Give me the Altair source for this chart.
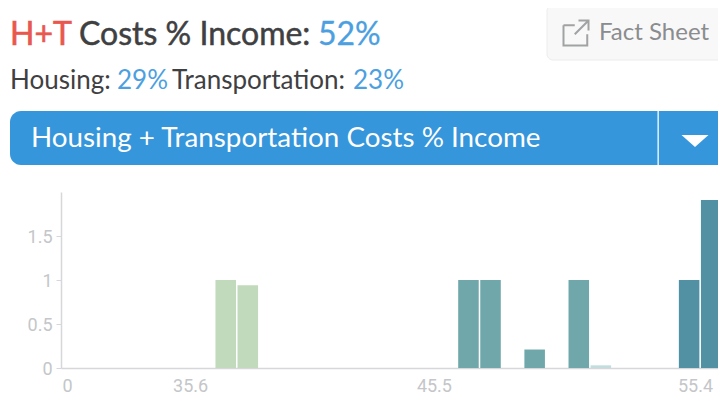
import altair as alt
import pandas as pd

# Histogram values
bin_start = [7, 8, 18, 19, 21, 23, 24, 28, 29]
counts = [1.0, 0.94, 1.0, 1.0, 0.21, 1.0, 0.03, 1.0, 1.91]
groups = ["low", "low", "mid", "mid", "mid", "mid", "faint", "high", "high"]
group_names = ["low", "mid", "faint", "high"]
group_colors = ["#c0dabb", "#6fa7ab", "#c3dcde", "#5291a3"]

# Tick labels
tick_pos = [0.27, 5.85, 16.9, 28.73]
tick_text = ["0", "35.6", "45.5", "55.4"]

FONT = "Lato"
AXIS_FONT = "Roboto"

bars = pd.DataFrame({"start": bin_start, "count": counts, "group": groups})
bars["end"] = bars["start"] + 0.93
bars["base"] = 0

label_expr = " : ".join(
    f"datum.value == {p} ? '{t}'" for p, t in zip(tick_pos, tick_text)
) + " : ''"

x_scale = alt.Scale(domain=[0, 30], range=[0, 662], nice=False, zero=False)
y_scale = alt.Scale(domain=[0, 2], nice=False)

hist = alt.Chart(bars).mark_bar(binSpacing=0).encode(
    x=alt.X(
        "start:Q",
        scale=x_scale,
        title=None,
        axis=alt.Axis(
            values=tick_pos,
            labelExpr=label_expr,
            grid=False,
            ticks=False,
            labelFont=AXIS_FONT,
            labelFontSize=18,
            labelColor="#c4c6c9",
            labelPadding=9,
            domainColor="#d6d7da",
            domainWidth=1.5,
            labelFlush=False,
            labelOverlap=False,
        ),
    ),
    x2="end:Q",
    y=alt.Y(
        "count:Q",
        scale=y_scale,
        title=None,
        axis=alt.Axis(
            values=[0, 0.5, 1, 1.5],
            grid=False,
            tickSize=5,
            tickColor="#d6d7da",
            labelFont=AXIS_FONT,
            labelFontSize=18,
            labelColor="#c4c6c9",
            labelPadding=4,
            labelOffset=1.5,
            domainColor="#d6d7da",
            domainWidth=1.5,
            format="~g",
        ),
    ),
    y2="base:Q",
    color=alt.Color(
        "group:N",
        scale=alt.Scale(domain=group_names, range=group_colors),
        legend=None,
    ),
)


def rect(x, x2, y, y2, fill, stroke=None, radius=0):
    kw = {"fill": fill, "cornerRadius": radius}
    if stroke:
        kw.update(stroke=stroke, strokeWidth=1)
    return alt.Chart(pd.DataFrame({"a": [0]})).mark_rect(**kw).encode(
        x=alt.value(x), x2=alt.value(x2), y=alt.value(y), y2=alt.value(y2)
    )


def label(s, x, y, size, color, font=FONT, heavy=0):
    kw = {"stroke": color, "strokeWidth": heavy} if heavy else {}
    return alt.Chart(pd.DataFrame({"t": [s]})).mark_text(
        align="left", baseline="alphabetic", font=font, fontSize=size, color=color, **kw
    ).encode(x=alt.value(x), y=alt.value(y), text="t:N")


OX, OY = 61, 192  # page position of the plot origin
DARK = "#3f4042"
BLUE = "#4c9fe0"

parts = [
    label("H+T", 10 - OX, 45 - OY, 32, "#e9584e", heavy=0.6),
    label("Costs % Income:", 79 - OX, 45 - OY, 32, DARK, heavy=0.5),
    label("52%", 318 - OX, 45 - OY, 32, BLUE, heavy=0.3),
    label("Housing:", 10 - OX, 89 - OY, 26, DARK),
    label("29%", 117 - OX, 89 - OY, 26, BLUE),
    label("Transportation:", 172 - OX, 89 - OY, 26, DARK),
    label("23%", 353 - OX, 89 - OY, 26, BLUE),
    rect(547 - OX, 740 - OX, 5 - OY, 60 - OY, "#f8f8f8", "#ececec", 6),
    label("Fact Sheet", 599 - OX, 40 - OY, 24, "#8b8c8e"),
    alt.Chart(pd.DataFrame({"a": [0]})).mark_point(
        shape="M-1 -0.62 L-1 1 L0.9 1 L0.9 0.1 M-1 -0.62 L-0.1 -0.62 M1 -1 L-0.1 0.1 M0.2 -1 L1 -1 L1 -0.2",
        size=625, filled=False, stroke="#7d7e80", strokeWidth=2,
    ).encode(x=alt.value(576 - OX), y=alt.value(33 - OY)),
    rect(10 - OX, 740 - OX, 111 - OY, 165 - OY, "#3596db", None, 11),
    rect(657.5 - OX, 658.8 - OX, 111 - OY, 165 - OY, "#ffffff"),
    label("Housing + Transportation Costs % Income", 31 - OX, 147 - OY, 27.8, "#ffffff"),
    alt.Chart(pd.DataFrame({"a": [0]})).mark_point(
        shape="M-1 -0.45 L1 -0.45 L0 0.45 Z", size=729, filled=True, fill="#ffffff", stroke=None, opacity=1,
    ).encode(x=alt.value(695 - OX), y=alt.value(141 - OY)),
]

chart = alt.layer(hist, *parts).properties(
    width=657,
    height=176,
    autosize=alt.AutoSizeParams(type="none"),
    padding={"left": 53, "top": 184, "right": 0, "bottom": 27},
    background="#ffffff",
).configure_view(stroke=None)

chart.save("out.html", embed_options={"renderer": "svg", "actions": False})
